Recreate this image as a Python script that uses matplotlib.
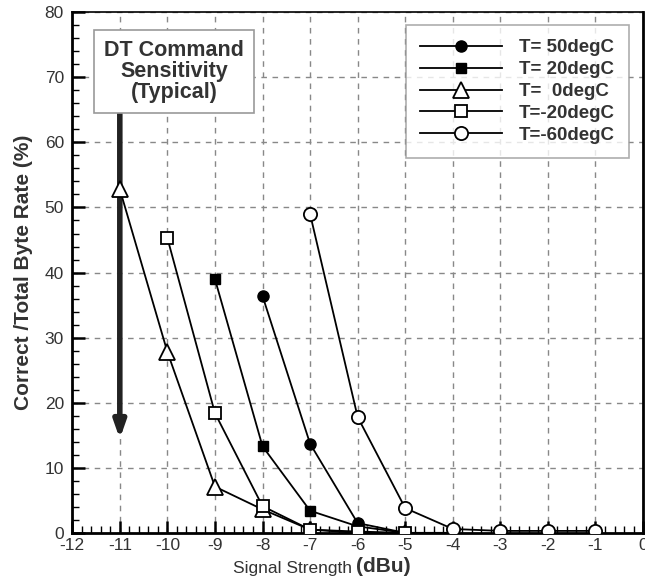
import matplotlib
matplotlib.use("Agg")
import matplotlib.pyplot as plt
from matplotlib.ticker import MultipleLocator

plt.rcParams['font.family'] = ['Liberation Sans', 'DejaVu Sans']
plt.rcParams['axes.unicode_minus'] = False

x50 = [-8, -7, -6, -5, -4]
y50 = [36.4, 13.7, 1.5, 0.0, 0.0]
x20 = [-9, -8, -7, -6, -5, -4]
y20 = [39.0, 13.3, 3.4, 1.0, 0.0, 0.0]
x0 = [-11, -10, -9, -8, -7, -6, -5]
y0 = [52.8, 27.8, 7.1, 3.6, 0.5, 0.0, 0.0]
xm20 = [-10, -9, -8, -7, -6, -5]
ym20 = [45.3, 18.4, 4.1, 0.5, 0.2, 0.0]
xm60 = [-7, -6, -5, -4, -3, -2, -1]
ym60 = [49.0, 17.8, 3.8, 0.6, 0.3, 0.3, 0.3]
labels = ['T= 50degC', 'T= 20degC', 'T=  0degC', 'T=-20degC', 'T=-60degC']

arrow_x = -11
arrow_top = 65.3
arrow_bottom = 14.0

fig = plt.figure(figsize=(6.45, 5.83), dpi=100)
ax = fig.add_axes([0.112, 0.086, 0.885, 0.893])

lw = 1.3
ax.plot(x50, y50, '-o', color='black', lw=lw, ms=8, mfc='black', label=labels[0], zorder=5)
ax.plot(x20, y20, '-s', color='black', lw=lw, ms=7, mfc='black', label=labels[1], zorder=5)
ax.plot(x0, y0, '-^', color='black', lw=lw, ms=11, mfc='white', mew=1.3, label=labels[2], zorder=5)
ax.plot(xm20, ym20, '-s', color='black', lw=lw, ms=8.5, mfc='white', mew=1.3, label=labels[3], zorder=5)
ax.plot(xm60, ym60, '-o', color='black', lw=lw, ms=9.5, mfc='white', mew=1.3, label=labels[4], zorder=5)

ax.set_xlim(-12, 0)
ax.set_ylim(0, 80)
ax.xaxis.set_major_locator(MultipleLocator(1))
ax.xaxis.set_minor_locator(MultipleLocator(0.2))
ax.yaxis.set_major_locator(MultipleLocator(10))
ax.yaxis.set_minor_locator(MultipleLocator(2))
ax.tick_params(which='major', direction='in', length=9, width=1.8, labelsize=12.5,
               colors='black', labelcolor='#333333')
ax.tick_params(axis='y', which='major', pad=6)
ax.tick_params(which='minor', direction='in', length=5, width=1.0)
ax.grid(True, which='major', linestyle=(0, (4, 4)), color='#888888', lw=1.0)
ax.set_axisbelow(True)
for s in ['left', 'bottom', 'right']:
    ax.spines[s].set_linewidth(2.0)
ax.spines['top'].set_linewidth(1.2)

# x label: light part + bold part
t1 = fig.text(0.361, 0.018, 'Signal Strength', ha='left', va='baseline', fontsize=12.5,
              color='#333333')
ax.annotate('(dBu)', xy=(1, 0), xycoords=t1, xytext=(3, 0), textcoords='offset points',
            ha='left', va='bottom', fontsize=15, fontweight='bold', color='#333333',
            annotation_clip=False)
ax.set_ylabel('Correct /Total Byte Rate (%)', fontsize=15, fontweight='bold', color='#333333', labelpad=8)

# arrow
ax.annotate('', xy=(arrow_x, arrow_bottom), xytext=(arrow_x, arrow_top),
            arrowprops=dict(arrowstyle='-|>,head_width=0.35,head_length=1.0', color='#222222', lw=4),
            zorder=4)

ax.text(-9.86, 70.9, 'DT Command\nSensitivity\n(Typical)', ha='center', va='center',
        fontsize=15.5, fontweight='bold', color='#333333', linespacing=1.02,
        bbox=dict(boxstyle='square,pad=0.45', fc='white', ec='#999999', lw=1.2), zorder=6)

leg = ax.legend(loc='upper right', bbox_to_anchor=(0.992, 0.993), frameon=True,
                fancybox=False, edgecolor='#999999', handlelength=4.4, handletextpad=0.9,
                borderpad=0.75, labelspacing=0.25, prop={'weight': 'bold', 'size': 13.5})
leg.get_frame().set_linewidth(1.2)
for t in leg.get_texts():
    t.set_color('#333333')

fig.savefig('out.png', dpi=100)
